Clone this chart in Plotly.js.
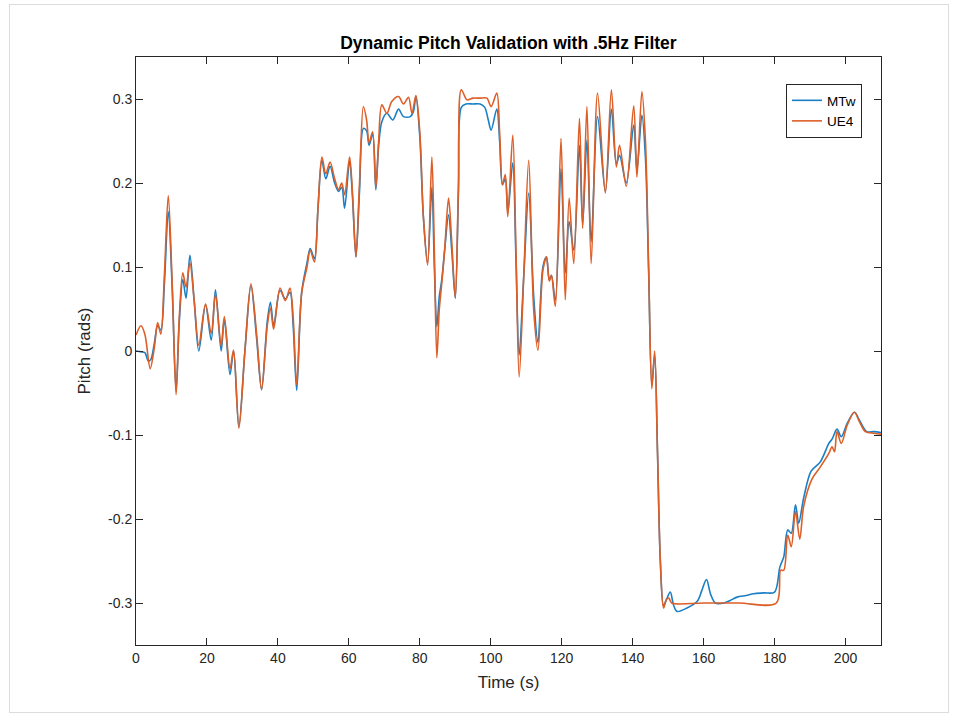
<!DOCTYPE html>
<html>
<head>
<meta charset="utf-8">
<script src="https://cdn.plot.ly/plotly-3.0.1.min.js"></script>
<style>
  html, body { margin: 0; padding: 0; background: #ffffff; }
  #frame { position: absolute; left: 9px; top: 4px; width: 938px; height: 707px; border: 1px solid #dcdcdc; pointer-events: none; }
  #chart { width: 958px; height: 721px; }
</style>
</head>
<body>
<div id="chart"></div>
<div id="frame"></div>
<script>
// UE4 series (time in s, pitch in rads)
const ue4Time = [0,1.4,2.5,4.0,5.2,6.1,7.0,8.0,9.1,10.2,11.3,12.2,13.2,14.1,15.2,16.4,17.7,19.6,21.2,22.4,24.0,24.9,26.5,27.5,29.0,30.7,32.4,34.0,35.4,37.0,37.9,38.8,40.6,42.1,43.4,44.3,45.3,46.7,48.2,49.1,50.3,51.3,52.4,53.5,54.7,56.0,57.1,58.0,58.8,60.2,61.0,62.0,63.0,64.1,65.0,65.7,66.7,67.6,68.4,69.3,70.7,72.1,74.0,75.4,76.8,77.8,78.9,80.0,81.0,82.2,83.4,84.1,84.8,85.5,86.2,87.0,88.1,89.0,90.0,90.9,91.7,93.3,95.0,97.0,98.9,100.1,101.7,102.5,103.3,104.1,104.8,106.2,107.1,108.0,109.3,110.7,112.1,113.3,114.7,115.7,116.5,117.1,118.2,119.8,121.0,122.1,123.4,125.0,125.9,127.1,128.3,130.1,132.3,134.0,135.4,136.3,138.2,140.3,141.2,142.6,143.6,144.5,145.4,146.2,147.0,147.8,148.7,149.5,150.2,151.0,160.0,170.0,180.5,181.7,182.6,183.7,184.7,185.9,187.1,188.2,190.6,192.9,195.3,196.2,196.9,197.6,198.8,200.5,202.5,204.0,205.6,208.0,210.0];
const ue4Pitch = [0.019,0.030,0.020,-0.021,0.005,0.034,0.020,0.090,0.185,0.080,-0.052,0.040,0.093,0.076,0.105,0.060,0.007,0.056,0.021,0.067,0.006,0.041,-0.021,0.001,-0.092,0.000,0.080,0.020,-0.046,0.030,0.051,0.026,0.075,0.060,0.075,0.040,-0.040,0.069,0.100,0.120,0.106,0.170,0.231,0.211,0.225,0.205,0.192,0.200,0.186,0.231,0.190,0.112,0.200,0.291,0.275,0.248,0.261,0.195,0.250,0.293,0.283,0.297,0.303,0.294,0.302,0.283,0.304,0.260,0.160,0.102,0.231,0.120,-0.008,0.050,0.081,0.120,0.182,0.130,0.063,0.200,0.311,0.299,0.301,0.301,0.301,0.291,0.307,0.260,0.198,0.210,0.160,0.257,0.120,-0.031,0.089,0.227,0.049,0.001,0.096,0.112,0.083,0.090,0.053,0.253,0.061,0.182,0.104,0.277,0.146,0.291,0.104,0.307,0.188,0.311,0.219,0.245,0.196,0.292,0.207,0.309,0.250,0.100,-0.045,0.000,-0.120,-0.250,-0.306,-0.296,-0.294,-0.300,-0.300,-0.300,-0.300,-0.261,-0.261,-0.219,-0.233,-0.191,-0.224,-0.185,-0.152,-0.138,-0.122,-0.114,-0.120,-0.096,-0.110,-0.088,-0.073,-0.085,-0.096,-0.098,-0.099];

// MTw series (time in s, pitch in rads)
const mtwTime = [0,1.5,2.5,3.5,4.2,5.2,6.1,7.0,8.0,9.1,10.2,11.3,12.2,13.2,14.1,15.2,16.4,17.7,19.6,21.2,22.4,24.0,24.9,26.5,27.5,29.0,30.7,32.4,34.0,35.4,37.0,37.9,38.8,40.6,42.1,43.4,44.3,45.3,46.7,48.2,49.1,50.3,51.3,52.4,53.5,54.7,56.0,57.1,58.0,58.8,60.2,61.0,62.0,63.0,64.1,65.0,65.7,66.7,67.6,68.4,69.3,70.7,72.4,74.0,75.4,77.3,78.2,78.9,80.0,81.0,82.2,83.4,84.1,84.8,85.5,86.2,87.0,88.1,89.0,90.0,90.9,91.7,93.0,95.0,97.0,98.3,99.3,100.1,101.7,102.5,103.3,104.1,104.8,106.2,107.1,108.0,109.3,110.7,112.1,113.3,114.7,115.7,116.5,117.1,118.2,119.8,121.0,122.1,123.4,125.0,125.9,127.1,128.3,130.1,132.3,134.0,135.4,136.3,138.2,140.3,141.2,142.6,143.6,144.5,145.4,146.2,147.0,147.8,148.7,149.6,150.6,151.5,152.5,155.3,158.2,159.5,160.8,162.0,163.3,165.7,167.5,169.4,172.0,174.1,177.0,180.0,181.5,182.6,183.7,184.7,185.9,186.8,188.2,190.3,192.9,195.3,196.2,197.6,198.8,200.5,202.5,204.0,206.0,208.0,210.0];
const mtwPitch = [0.000,-0.001,-0.002,-0.012,-0.010,0.010,0.030,0.025,0.080,0.166,0.075,-0.048,0.035,0.085,0.063,0.114,0.060,0.000,0.055,0.013,0.073,0.000,0.038,-0.028,0.000,-0.090,0.000,0.078,0.015,-0.046,0.035,0.058,0.030,0.072,0.062,0.070,0.030,-0.047,0.070,0.105,0.122,0.110,0.170,0.227,0.205,0.220,0.200,0.190,0.195,0.170,0.226,0.185,0.112,0.190,0.265,0.262,0.245,0.258,0.192,0.245,0.273,0.283,0.275,0.288,0.279,0.279,0.285,0.303,0.255,0.160,0.105,0.195,0.100,0.029,0.065,0.085,0.120,0.162,0.120,0.063,0.190,0.290,0.294,0.294,0.294,0.290,0.275,0.263,0.288,0.250,0.198,0.205,0.165,0.224,0.110,-0.005,0.089,0.188,0.065,0.010,0.100,0.112,0.085,0.090,0.060,0.217,0.093,0.154,0.120,0.245,0.150,0.251,0.130,0.279,0.190,0.288,0.223,0.233,0.200,0.269,0.215,0.281,0.230,0.095,-0.040,-0.005,-0.120,-0.250,-0.303,-0.295,-0.287,-0.302,-0.310,-0.306,-0.298,-0.285,-0.272,-0.290,-0.300,-0.300,-0.297,-0.293,-0.291,-0.289,-0.288,-0.287,-0.257,-0.245,-0.213,-0.217,-0.183,-0.205,-0.175,-0.143,-0.132,-0.110,-0.105,-0.093,-0.102,-0.086,-0.073,-0.083,-0.096,-0.096,-0.097];

const xTickVals = [0,20,40,60,80,100,120,140,160,180,200];
const xTickText = ['0','20','40','60','80','100','120','140','160','180','200'];
const yTickVals = [-0.3,-0.2,-0.1,0,0.1,0.2,0.3];
const yTickText = ['-0.3','-0.2','-0.1','0','0.1','0.2','0.3'];

const FONT = '"Liberation Sans", Arial, Helvetica, sans-serif';
const AX = '#262626';

const traces = [
  { x: mtwTime, y: mtwPitch, name: 'MTw', type: 'scatter', mode: 'lines',
    line: { color: '#1a7fc4', width: 1.6, shape: 'spline', smoothing: 0.9 } },
  { x: ue4Time, y: ue4Pitch, name: 'UE4', type: 'scatter', mode: 'lines',
    line: { color: '#dd5f28', width: 1.6, shape: 'spline', smoothing: 0.9 } }
];

const axisBase = {
  showline: true, linecolor: AX, linewidth: 1, mirror: 'ticks',
  ticks: 'inside', ticklen: 7, tickcolor: AX, tickwidth: 1,
  showgrid: false, zeroline: false,
  tickfont: { family: FONT, size: 14, color: AX }
};

const layout = {
  width: 958, height: 721,
  paper_bgcolor: '#ffffff', plot_bgcolor: '#ffffff',
  margin: { l: 136, r: 77, t: 57, b: 76 },
  font: { family: FONT, color: AX },
  title: { text: '<b>Dynamic Pitch Validation with .5Hz Filter</b>',
           font: { family: FONT, size: 17.5, color: '#000000' },
           x: 0.5307, xanchor: 'center', y: 0.941, yanchor: 'middle' },
  xaxis: Object.assign({}, axisBase, {
    range: [0, 210], tickvals: xTickVals, ticktext: xTickText,
    title: { text: 'Time (s)', font: { family: FONT, size: 17, color: AX }, standoff: 11 }
  }),
  yaxis: Object.assign({}, axisBase, {
    range: [-0.35, 0.35], tickvals: yTickVals, ticktext: yTickText,
    title: { text: 'Pitch (rads)', font: { family: FONT, size: 17, color: AX }, standoff: 13 }
  }),
  showlegend: true,
  legend: { x: 0.9745, y: 0.954, xanchor: 'right', yanchor: 'top',
            bgcolor: '#ffffff', bordercolor: AX, borderwidth: 1,
            font: { family: FONT, size: 13.5, color: '#000000' },
            tracegroupgap: 0, itemwidth: 30 }
};

Plotly.newPlot('chart', traces, layout, { displayModeBar: false, staticPlot: true });
</script>
</body>
</html>
